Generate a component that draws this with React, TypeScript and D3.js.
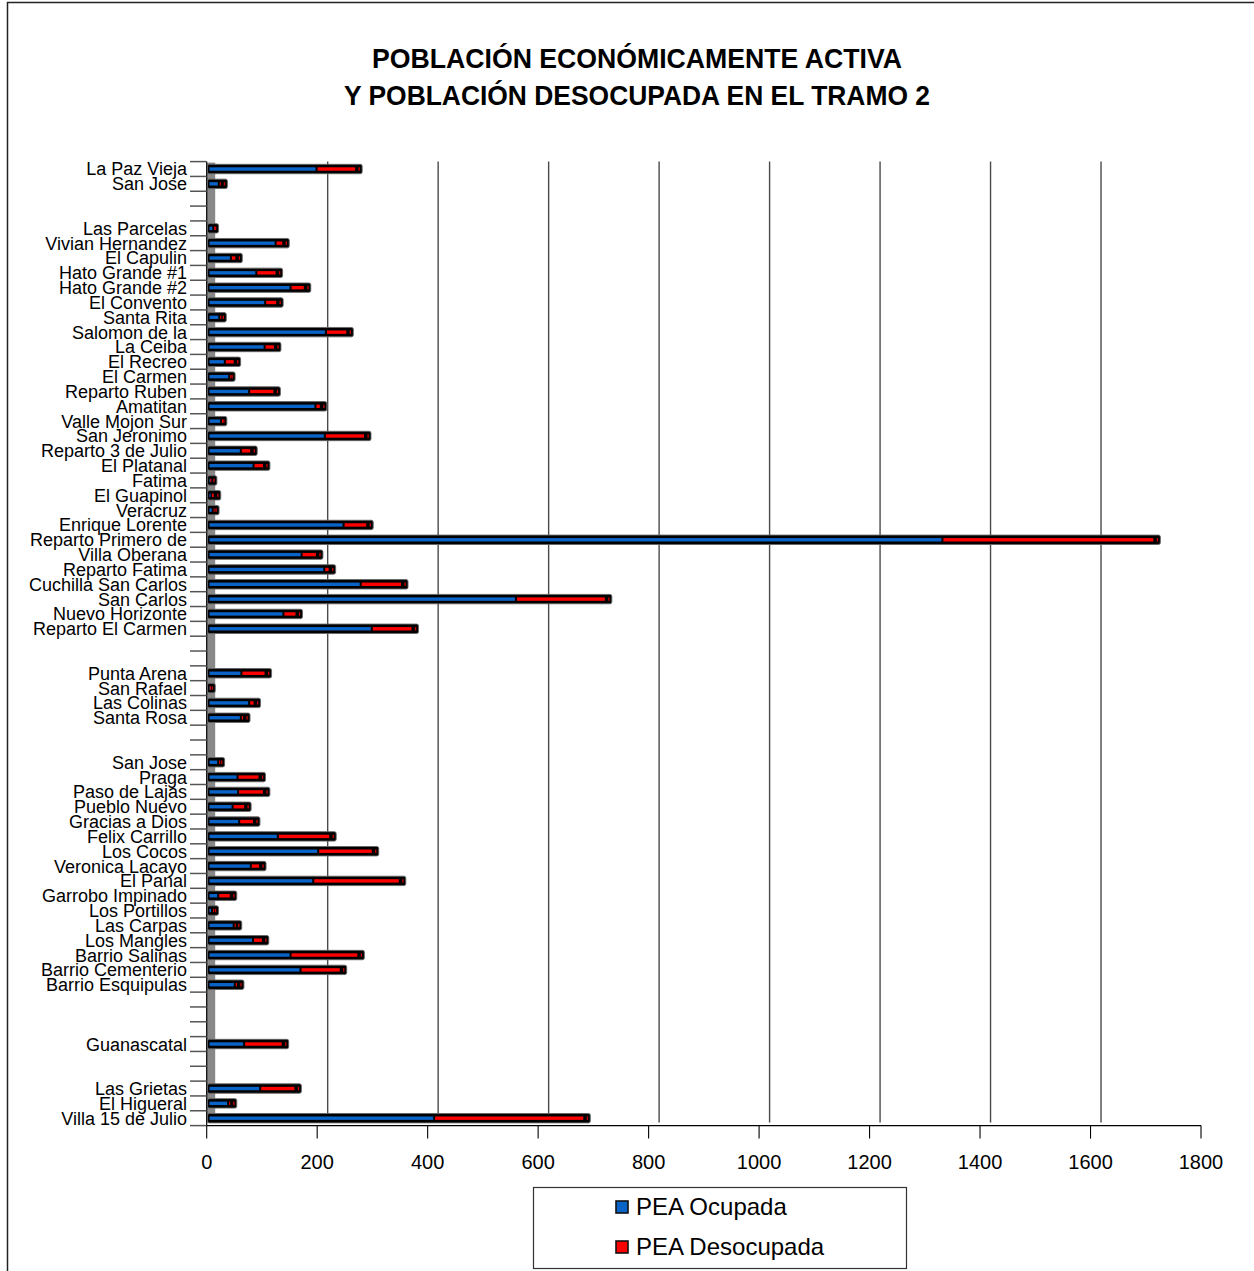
import React from "react";
import * as d3 from "d3";

// Localities in chart order (top to bottom); empty strings are spacer rows between sectors.
const categories: string[] = [
  "La Paz Vieja", "San Jose", "", "", "Las Parcelas", "Vivian Hernandez", "El Capulin",
  "Hato Grande #1", "Hato Grande #2", "El Convento", "Santa Rita", "Salomon de la",
  "La Ceiba", "El Recreo", "El Carmen", "Reparto Ruben", "Amatitan", "Valle Mojon Sur",
  "San Jeronimo", "Reparto 3 de Julio", "El Platanal", "Fatima", "El Guapinol", "Veracruz",
  "Enrique Lorente", "Reparto Primero de", "Villa Oberana", "Reparto Fatima",
  "Cuchilla San Carlos", "San Carlos", "Nuevo Horizonte", "Reparto El Carmen", "", "",
  "Punta Arena", "San Rafael", "Las Colinas", "Santa Rosa", "", "",
  "San Jose", "Praga", "Paso de Lajas", "Pueblo Nuevo", "Gracias a Dios", "Felix Carrillo",
  "Los Cocos", "Veronica Lacayo", "El Panal", "Garrobo Impinado", "Los Portillos",
  "Las Carpas", "Los Mangles", "Barrio Salinas", "Barrio Cementerio", "Barrio Esquipulas",
  "", "", "", "Guanascatal", "", "", "Las Grietas", "El Higueral", "Villa 15 de Julio",
];

// PEA Ocupada (employed economically active population)
const peaOcupada: (number | null)[] = [
  197, 20, null, null, 10, 123, 42, 88, 150, 104, 21, 214, 103, 31, 39, 75, 195, 24,
  212, 60, 83, 3, 6, 9, 246, 1330, 170, 211, 277, 558, 137, 297, null, null,
  61, 2, 75, 60, null, null,
  19, 54, 55, 45, 57, 127, 200, 78, 191, 19, 8, 47, 82, 150, 168, 49,
  null, null, null, 66, null, null, 95, 37, 410,
];

// PEA Desocupada (unemployed)
const peaDesocupada: (number | null)[] = [
  79, 12, null, null, 6, 21, 17, 44, 33, 29, 9, 46, 26, 25, 7, 53, 17, 7,
  80, 26, 26, 10, 14, 8, 50, 391, 35, 17, 82, 170, 31, 81, null, null,
  51, 8, 17, 13, null, null,
  8, 47, 54, 30, 34, 102, 106, 24, 164, 30, 8, 11, 25, 130, 80, 13,
  null, null, null, 77, null, null, 71, 12, 279,
];

const xTicks: number[] = [0, 200, 400, 600, 800, 1000, 1200, 1400, 1600, 1800];
const gridValues: number[] = [200, 400, 600, 800, 1000, 1200, 1400, 1600];

const titleLines: string[] = [
  "POBLACIÓN ECONÓMICAMENTE ACTIVA",
  "Y POBLACIÓN DESOCUPADA EN EL TRAMO 2",
];
const seriesNames: string[] = ["PEA Ocupada", "PEA Desocupada"];

const W = 1254;
const H = 1271;
const FONT = "'Liberation Sans', Arial, Helvetica, sans-serif";
const BLUE = "#0a64c8";
const RED = "#ff0000";

export default function App() {
  const plotTop = 161.6;
  const plotBottom = 1125.6;
  const x0 = 206.7;
  const x = d3.scaleLinear().domain([0, 1800]).range([x0, 1201]);
  const y = d3
    .scaleBand<number>()
    .domain(d3.range(categories.length))
    .range([plotTop, plotBottom])
    .padding(0);
  const depth = 10.5; // back-wall offset of the 3D gridlines
  const wallBottom = 1122.5;

  const boundaries = d3.range(categories.length + 1).map((i) => plotTop + i * y.step());

  return (
    <svg
      width={W}
      height={H}
      style={{ position: "absolute", left: 0, top: 0, background: "#fff" }}
      fontFamily={FONT}
    >
      {/* outer frame */}
      <rect x={7.5} y={2.5} width={W + 20} height={H + 20} fill="#fff" stroke="#222" strokeWidth={1.5} />

      {/* title */}
      {titleLines.map((t, i) => (
        <text
          key={i}
          x={637}
          y={68 + i * 37}
          textAnchor="middle"
          fontSize={28}
          fontWeight="bold"
          textLength={i === 0 ? 530 : 586}
          lengthAdjust="spacingAndGlyphs"
          fill="#000"
        >
          {t}
        </text>
      ))}

      {/* back-wall gridlines */}
      {gridValues.map((v) => (
        <line
          key={v}
          x1={x(v) + depth}
          x2={x(v) + depth}
          y1={plotTop}
          y2={wallBottom}
          stroke="#4a4a4a"
          strokeWidth={1.4}
        />
      ))}

      {/* side wall */}
      <rect x={x0} y={plotTop + 1} width={8.5} height={wallBottom - plotTop - 1} fill="#888" />
      <line x1={x0} x2={x0} y1={plotTop} y2={plotBottom} stroke="#000" strokeWidth={1.2} />

      {/* category ticks */}
      {boundaries.map((b, i) => (
        <line key={i} x1={190} x2={x0} y1={b} y2={b} stroke="#555" strokeWidth={1.5} />
      ))}

      {/* category labels */}
      {categories.map((c, i) =>
        c ? (
          <text
            key={i}
            x={187}
            y={(y(i) as number) + y.bandwidth() / 2}
            dy="0.36em"
            textAnchor="end"
            fontSize={18}
            fill="#000"
          >
            {c}
          </text>
        ) : null
      )}

      {/* bars */}
      {categories.map((c, i) => {
        const occ = peaOcupada[i];
        const des = peaDesocupada[i];
        if (occ == null || des == null) return null;
        const cy = (y(i) as number) + y.bandwidth() / 2;
        const xo = x(occ);
        const xt = x(occ + des);
        const xe = xt + 3;
        const blueW = Math.max(1, xo - 209.5);
        const redX = xo + 2;
        const redW = des > 0 ? Math.max(1, xe - 7 - redX) : 0;
        return (
          <g key={i}>
            <rect
              x={207.5}
              y={cy - 4.7}
              width={xe - 207.5}
              height={9.4}
              rx={1.8}
              fill="#000"
              stroke="#666"
              strokeWidth={0.9}
            />
            <rect x={209.5} y={cy - 1.7} width={blueW} height={3.4} fill={BLUE} />
            {redW > 0 && <rect x={redX} y={cy - 1.7} width={redW} height={3.4} fill={RED} />}
            <rect x={xe - 3.6} y={cy - 1.7} width={1.3} height={3.4} fill="#d00000" />
          </g>
        );
      })}

      {/* value axis */}
      <line x1={x0} x2={x(1800)} y1={plotBottom} y2={plotBottom} stroke="#000" strokeWidth={1.2} />
      {xTicks.map((t) => (
        <g key={t}>
          <line x1={x(t)} x2={x(t)} y1={plotBottom} y2={plotBottom + 13} stroke="#000" strokeWidth={1.1} />
          <text x={x(t)} y={1169} textAnchor="middle" fontSize={20} fill="#000">
            {t}
          </text>
        </g>
      ))}

      {/* legend */}
      <rect x={533.5} y={1187.5} width={373} height={81} fill="#fff" stroke="#333" strokeWidth={1.2} />
      {seriesNames.map((s, i) => (
        <g key={s}>
          <rect
            x={616}
            y={1201 + i * 40}
            width={12}
            height={12}
            fill={i === 0 ? BLUE : RED}
            stroke="#111"
            strokeWidth={1.6}
          />
          <text x={636} y={1215 + i * 40} fontSize={24} fill="#000">
            {s}
          </text>
        </g>
      ))}
    </svg>
  );
}
